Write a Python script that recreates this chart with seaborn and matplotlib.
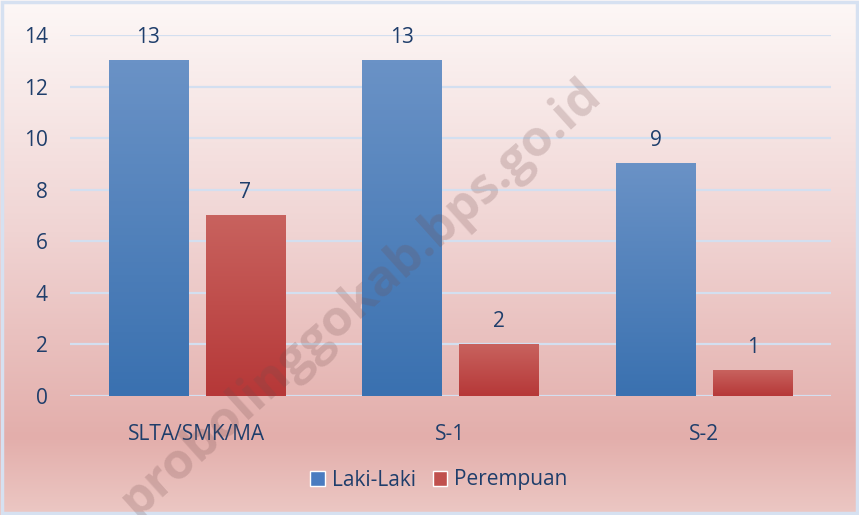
import numpy as np
import pandas as pd
import matplotlib
matplotlib.use("Agg")
import matplotlib.pyplot as plt
import seaborn as sns
from matplotlib.patches import Patch

categories = ["SLTA/SMK/MA", "S-1", "S-2"]
laki = [13, 13, 9]
perempuan = [7, 2, 1]
series = ["Laki-Laki", "Perempuan"]

df = pd.DataFrame({
    "cat": categories * 2,
    "val": laki + perempuan,
    "sex": [series[0]] * 3 + [series[1]] * 3,
})

sns.set_theme(style="white")
plt.rcParams["font.family"] = ["Open Sans", "DejaVu Sans"]
txt_color = "#1f3e6b"
fs = 15

fig = plt.figure(figsize=(8.59, 5.15), dpi=100)

# background gradient
bg = fig.add_axes([0, 0, 1, 1], zorder=-10)
top = np.array([253, 248, 247]) / 255
mid = np.array([240, 212, 211]) / 255
bot = np.array([227, 174, 171]) / 255
edge = np.array([236, 200, 196]) / 255
n = 515
ys = np.linspace(0, 1, n)
cols = np.zeros((n, 1, 3))
for i, t in enumerate(ys):
    if t < 0.45:
        c = top + (mid - top) * (t / 0.45)
    elif t < 0.85:
        c = mid + (bot - mid) * ((t - 0.45) / 0.40)
    else:
        c = bot + (edge - bot) * ((t - 0.85) / 0.15)
    cols[i, 0] = c
bg.imshow(cols, aspect="auto", extent=[0, 1, 0, 1], origin="upper")
bg.set_xlim(0, 1); bg.set_ylim(0, 1)
bg.axis("off")
bg.add_patch(plt.Rectangle((0.002, 0.003), 0.996, 0.994, fill=False,
                           edgecolor="#d6e1f1", linewidth=2.5, transform=bg.transAxes))

ax = fig.add_axes([70 / 859, (515 - 396) / 515, (831 - 70) / 859, (396 - 35) / 515])
ax.patch.set_alpha(0)

palette = {"Laki-Laki": "#4f81bd", "Perempuan": "#c0504d"}
sns.barplot(data=df, x="cat", y="val", hue="sex", palette=palette,
            width=0.765, gap=0.185, ax=ax, legend=False, saturation=1,
            linewidth=0, edgecolor="none")

ax.set_ylim(0, 14)
ax.set_yticks(range(0, 15, 2))
ax.set_xlim(-0.5, 2.5)
for s in ax.spines.values():
    s.set_visible(False)
ax.grid(axis="y", color="#d3dff0", linewidth=1.6, zorder=0)
ax.set_axisbelow(True)
ax.set_xlabel(""); ax.set_ylabel("")
ax.tick_params(axis="x", length=0, pad=20, labelsize=fs, labelcolor=txt_color)
ax.tick_params(axis="y", length=0, pad=16, labelsize=fs, labelcolor=txt_color)

grads = {
    "Laki-Laki": (np.array([106, 146, 198]) / 255, np.array([58, 113, 176]) / 255),
    "Perempuan": (np.array([200, 98, 94]) / 255, np.array([182, 56, 56]) / 255),
}
for cont, name in zip(ax.containers, series):
    ctop, cbot = grads[name]
    for p in cont.patches:
        x0, y0 = p.get_x(), p.get_y()
        w, h = p.get_width(), p.get_height()
        g = np.linspace(0, 1, 100)[:, None, None]
        img = ctop + (cbot - ctop) * g
        ax.imshow(img, extent=[x0, x0 + w, y0, y0 + h], aspect="auto",
                  origin="upper", zorder=p.get_zorder() + 0.1)
    ax.bar_label(cont, padding=9, fontsize=fs, color=txt_color)
ax.set_xlim(-0.5, 2.5)
ax.set_ylim(0, 14)

handles = [Patch(facecolor="#4a7cc0", label="Laki-Laki"),
           Patch(facecolor="#c0504d", label="Perempuan")]
fig.legend(handles=handles, loc="center", bbox_to_anchor=(0.511, (515 - 480) / 515),
           ncol=2, frameon=False, fontsize=fs, labelcolor=txt_color,
           handlelength=0.7, handleheight=0.7, handletextpad=0.35, columnspacing=0.8)

fig.text(0.42, 0.42, "probolinggokab.bps.go.id", rotation=42, fontsize=36,
         fontweight="bold", color=(0.45, 0.3, 0.3, 0.22), ha="center", va="center",
         zorder=20)

fig.savefig("out.png", dpi=100)
